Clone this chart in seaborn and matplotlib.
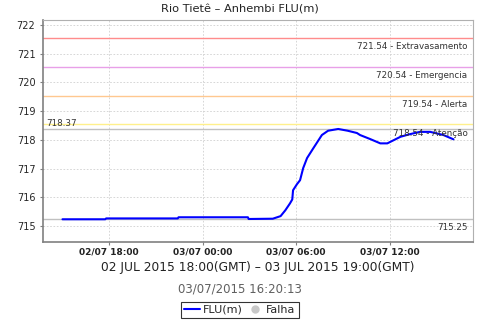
import matplotlib
matplotlib.use("Agg")
import matplotlib.pyplot as plt
from matplotlib.lines import Line2D
import seaborn as sns
import pandas as pd

# ---- data ----
hours = [15.0, 17.75, 17.8, 22.4, 22.45, 26.9, 26.95, 28.5, 29.0, 29.3, 29.6, 29.75,
         29.8, 30.05, 30.25, 30.45, 30.7, 31.1, 31.65, 32.05, 32.7, 33.3, 33.9, 34.1,
         34.75, 35.4, 35.85, 36.7, 37.3, 37.95, 38.6, 39.45, 40.1]
level = [715.24, 715.24, 715.27, 715.27, 715.31, 715.31, 715.25, 715.26, 715.35, 715.55,
         715.79, 715.93, 716.25, 716.46, 716.6, 717.02, 717.37, 717.71, 718.17, 718.32,
         718.38, 718.32, 718.24, 718.17, 718.03, 717.88, 717.88, 718.11, 718.2, 718.28,
         718.28, 718.17, 718.02]
threshold_vals = [721.54, 720.54, 719.54, 718.54]
threshold_names = ["Extravasamento", "Emergencia", "Alerta", "Atenção"]
threshold_colors = ["#ff8c8c", "#e8a0e8", "#ffc890", "#fff08c"]
max_val = 718.37
min_val = 715.25
xtick_pos = [18, 24, 30, 36]
xtick_labels = ["02/07 18:00", "03/07 00:00", "03/07 06:00", "03/07 12:00"]
ytick_vals = [715, 716, 717, 718, 719, 720, 721, 722]
title = "Rio Tietê – Anhembi FLU(m)"
xlabel = "02 JUL 2015 18:00(GMT) – 03 JUL 2015 19:00(GMT)"
timestamp = "03/07/2015 16:20:13"

df = pd.DataFrame({"hour": hours, "FLU(m)": level})

sns.set_style("white")
plt.rcParams["font.family"] = ["DejaVu Sans"]

fig = plt.figure(figsize=(4.8, 3.2), dpi=100)
ax = fig.add_axes([43 / 480, 1 - 242 / 320, 430 / 480, 222 / 320])

ax.set_xlim(13.75, 41.35)
ax.set_ylim(714.45, 722.17)

# grid
ax.set_xticks(xtick_pos)
ax.set_xticklabels(xtick_labels)
ax.set_yticks(ytick_vals)
ax.grid(True, color="#d0d0d0", linestyle=(0, (2, 2)), linewidth=0.6)
ax.set_axisbelow(True)

# threshold lines
for v, n, c in zip(threshold_vals, threshold_names, threshold_colors):
    ax.axhline(v, color=c, linewidth=1.0, zorder=2)
    ax.annotate(f"{v:.2f} - {n}", xy=(1, v), xycoords=("axes fraction", "data"),
                xytext=(-4, -3), textcoords="offset points", ha="right", va="top",
                fontsize=6.3, color="#333333", zorder=5)

ax.axhline(max_val, color="#c0c0c0", linewidth=1.0, zorder=2)
ax.annotate(f"{max_val:.2f}", xy=(0, max_val), xycoords=("axes fraction", "data"),
            xytext=(2, 1), textcoords="offset points", ha="left", va="bottom",
            fontsize=6.3, color="#333333", zorder=5)
ax.axhline(min_val, color="#c0c0c0", linewidth=1.0, zorder=2)
ax.annotate(f"{min_val:.2f}", xy=(1, min_val), xycoords=("axes fraction", "data"),
            xytext=(-4, -3), textcoords="offset points", ha="right", va="top",
            fontsize=6.3, color="#333333", zorder=5)

sns.lineplot(data=df, x="hour", y="FLU(m)", ax=ax, color="#0000ff", linewidth=1.5,
             zorder=4, legend=False)

ax.set_xlabel("")
ax.set_ylabel("")
for s in ["left", "bottom"]:
    ax.spines[s].set_color("#808080")
    ax.spines[s].set_linewidth(1.2)
for s in ["top", "right"]:
    ax.spines[s].set_color("#b0b0b0")
    ax.spines[s].set_linewidth(0.8)

ax.tick_params(axis="both", which="major", length=2.5, width=0.8, color="#808080",
               direction="out", bottom=True, left=True)
ax.tick_params(axis="x", labelsize=6.5, pad=1.5)
ax.tick_params(axis="y", labelsize=7, pad=3)
for lab in ax.get_xticklabels():
    lab.set_fontweight("bold")
    lab.set_color("#222222")

fig.text(0.5, 1 - 9 / 320, title, ha="center", va="center", fontsize=8.2, color="#222222")
fig.text(258 / 480, 1 - 268 / 320, xlabel, ha="center", va="center", fontsize=8.8,
         color="#222222")
fig.text(0.5, 1 - 289 / 320, timestamp, ha="center", va="center", fontsize=8.5,
         color="#606060")

handles = [Line2D([0], [0], color="#0000ff", linewidth=1.5),
           Line2D([0], [0], marker="o", linestyle="none", markersize=5,
                  markerfacecolor="#c8c8c8", markeredgecolor="#c8c8c8")]
leg = fig.legend(handles, ["FLU(m)", "Falha"], loc="center",
                 bbox_to_anchor=(240 / 480, 1 - 310 / 320), ncol=2, fontsize=8,
                 frameon=True, fancybox=False, handlelength=1.4, handletextpad=0.3,
                 columnspacing=0.4, borderpad=0.25, borderaxespad=0)
leg.get_frame().set_edgecolor("black")
leg.get_frame().set_linewidth(0.8)

fig.savefig("out.png", dpi=100)
